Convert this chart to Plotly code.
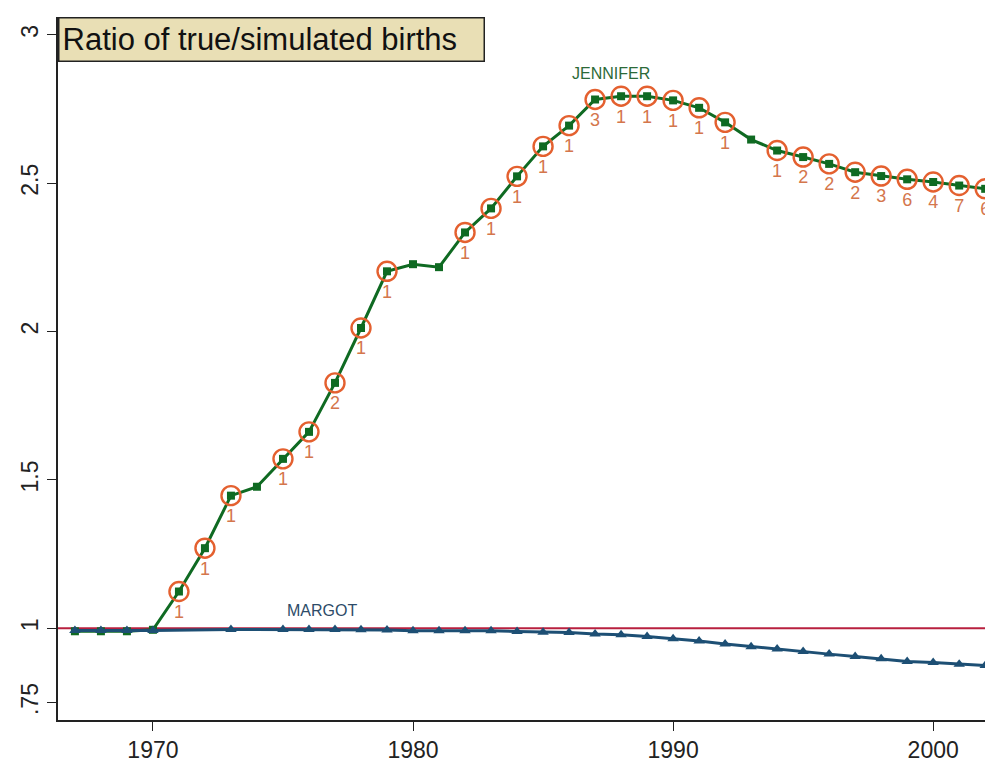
import plotly.graph_objects as go

years = list(range(1967, 2003))

jennifer = [0.99, 0.99, 0.99, 0.995, 1.124, 1.27, 1.447, 1.477, 1.571, 1.662,
            1.827, 2.012, 2.203, 2.227, 2.217, 2.334, 2.415, 2.523, 2.624, 2.694,
            2.782, 2.793, 2.793, 2.779, 2.754, 2.705, 2.647, 2.61, 2.588, 2.565,
            2.537, 2.524, 2.513, 2.504, 2.492, 2.481]

margot_years = [1967, 1968, 1969, 1970, 1973, 1975, 1976, 1977, 1978, 1979,
                1980, 1981, 1982, 1983, 1984, 1985, 1986, 1987, 1988, 1989,
                1990, 1991, 1992, 1993, 1994, 1995, 1996, 1997, 1998, 1999,
                2000, 2001, 2002]
margot = [0.993, 0.993, 0.993, 0.993, 0.996, 0.996, 0.996, 0.996, 0.995, 0.994,
          0.992, 0.992, 0.992, 0.992, 0.989, 0.987, 0.986, 0.981, 0.978, 0.972,
          0.965, 0.957, 0.947, 0.938, 0.930, 0.922, 0.913, 0.905, 0.897, 0.888,
          0.885, 0.879, 0.875]

# circled (matched) years and their counts
circ_years = [1971, 1972, 1973, 1975, 1976, 1977, 1978, 1979, 1982, 1983, 1984,
              1985, 1986, 1987, 1988, 1989, 1990, 1991, 1992, 1994, 1995, 1996,
              1997, 1998, 1999, 2000, 2001, 2002]
circ_counts = [1, 1, 1, 1, 1, 2, 1, 1, 1, 1, 1,
               1, 1, 3, 1, 1, 1, 1, 1, 1, 2, 2,
               2, 3, 6, 4, 7, 6]

y_tickvals = [0.75, 1, 1.5, 2, 2.5, 3]
y_ticktext = [".75", "1", "1.5", "2", "2.5", "3"]
x_tickvals = [1970, 1980, 1990, 2000]

title_text = "Ratio of true/simulated births"

jen_lookup = dict(zip(years, jennifer))
circ_y = [jen_lookup[y] for y in circ_years]

GREEN = "#0f6a22"
BLUE = "#1d4f74"
ORANGE = "#e4602f"
LABEL = "#d4764c"
RED = "#b8203f"
FONT = "Liberation Sans, Arial"

fig = go.Figure()

fig.add_trace(go.Scatter(
    x=[1966.35, 2002.3], y=[1, 1], mode="lines",
    line=dict(color=RED, width=2), hoverinfo="skip", showlegend=False))

fig.add_trace(go.Scatter(
    x=years, y=jennifer, mode="lines+markers",
    line=dict(color=GREEN, width=3),
    marker=dict(symbol="square", size=8, color=GREEN),
    showlegend=False))

fig.add_trace(go.Scatter(
    x=margot_years, y=margot, mode="lines+markers",
    line=dict(color=BLUE, width=3),
    marker=dict(symbol="triangle-up", size=10, color=BLUE),
    showlegend=False))

fig.add_trace(go.Scatter(
    x=circ_years, y=circ_y, mode="markers+text",
    marker=dict(symbol="circle-open", size=19, color=ORANGE,
                line=dict(color=ORANGE, width=2.4)),
    text=[str(c) for c in circ_counts], textposition="bottom center",
    textfont=dict(family=FONT, size=18, color=LABEL),
    showlegend=False))

fig.add_annotation(x=1987.6, y=2.869, text="JENNIFER", showarrow=False,
                   font=dict(family=FONT, size=16, color="#2c6a38"))
fig.add_annotation(x=1976.5, y=1.06, text="MARGOT", showarrow=False,
                   font=dict(family=FONT, size=16, color="#2d4b68"))

# title box
fig.add_annotation(x=0, y=1, xref="paper", yref="paper", xanchor="left", yanchor="top",
                   text=title_text, showarrow=False, align="left",
                   font=dict(family=FONT, size=31, color="#111111"),
                   bgcolor="#e9dfb5", bordercolor="#222222", borderwidth=1.5,
                   borderpad=3, width=418, height=36)

fig.update_layout(
    width=985, height=755,
    margin=dict(l=50, r=0, t=9, b=41),
    plot_bgcolor="white", paper_bgcolor="white",
    font=dict(family=FONT, color="#222222"),
    xaxis=dict(range=[1966.35, 2002.3], tickvals=x_tickvals, showgrid=False,
               zeroline=False, showline=True, linecolor="#222222", linewidth=1.5,
               ticks="outside", ticklen=9, tickcolor="#222222", tickwidth=1.3,
               tickfont=dict(size=23, color="#222222")),
    yaxis=dict(range=[0.691, 3.06], tickvals=y_tickvals, ticktext=y_ticktext,
               showgrid=False, zeroline=False, showline=True, linecolor="#222222",
               linewidth=1.5, ticks="outside", ticklen=9, tickcolor="#222222",
               tickwidth=1.3, tickangle=-90, tickfont=dict(size=23, color="#222222")),
)

fig.write_html("out.html")
